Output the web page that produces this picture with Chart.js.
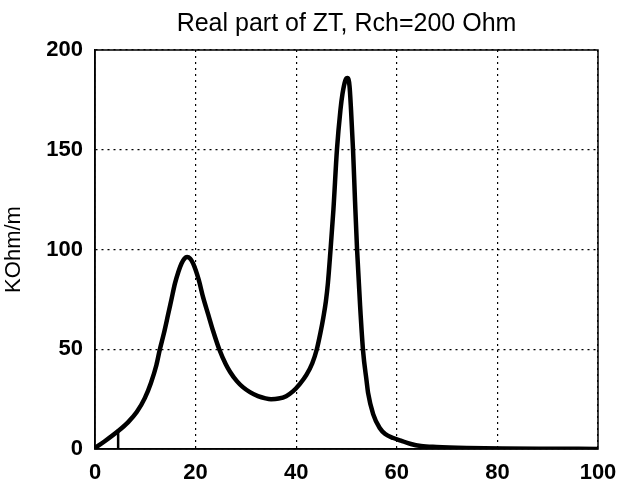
<!DOCTYPE html>
<html>
<head>
<meta charset="utf-8">
<script src="https://cdn.jsdelivr.net/npm/chart.js@4"></script>
<style>
  html, body { margin: 0; padding: 0; background: #fff; }
  #wrap { width: 622px; height: 488px; }
</style>
</head>
<body>
<div id="wrap"><canvas id="ztChart" width="622" height="488"></canvas></div>
<script>
// --- DATA ---
const freqPts = [0, 2, 4.6, 6.6, 8.3, 9.9, 11.1, 12.2, 12.9, 13.7, 14.5, 15.2, 15.9, 16.6, 17.2, 17.8, 18.3, 18.9,
    19.5, 20.6, 21.5, 22.5, 23.5, 24.7, 26.0, 26.9, 28.2, 29.4, 30.8, 32.4, 33.9, 35.0, 36.5, 38.0, 39.4, 40.7,
    42.0, 43.2, 44.1, 44.8, 45.4, 45.9, 46.3, 46.8, 47.4, 48.1, 48.8, 49.2, 49.8, 50.2, 50.6, 50.9, 51.3,
    51.7, 52.1, 52.7, 53.3, 54.0, 54.3, 55.3, 56.6, 57.7, 59.3, 60.8, 62.8, 64.8, 67.9, 73.9, 81, 91, 100];
const realZT = [0.5, 4, 9, 13.5, 18.5, 25.5, 33, 42, 50, 58, 67, 75, 83, 89, 93, 95.5, 96.2, 95.5,
    93, 85, 76, 67.5, 59, 50, 42.5, 38.5, 34, 31, 28.5, 26.5, 25.4, 25, 25.3, 26.5, 29, 32.5,
    37, 43, 50, 58, 66, 74, 83, 99, 120, 150, 170, 178, 185, 186, 182, 170, 150,
    124, 100, 72, 49, 34, 28, 17.5, 10.5, 7.5, 5.5, 4.2, 2.5, 1.5, 1, 0.5, 0.2, 0.1, 0.05];
// little hand mark near the origin
const markX = [4.6, 4.6];
const markY = [0, 10];

const xTicks = [0, 20, 40, 60, 80, 100];
const yTicks = [0, 50, 100, 150, 200];

// --- plot frame (MATLAB style box) ---
const boxPlugin = {
    id: 'box',
    afterDraw(chart) {
        const a = chart.chartArea;
        const c = chart.ctx;
        c.save();
        c.strokeStyle = '#000';
        c.lineWidth = 1.5;
        c.strokeRect(a.left, a.top, a.right - a.left, a.bottom - a.top);
        c.restore();
    }
};

const bgPlugin = {
    id: 'bg',
    beforeDraw(chart) {
        const c = chart.ctx;
        c.save();
        c.fillStyle = '#fff';
        c.fillRect(0, 0, chart.width, chart.height);
        c.restore();
    }
};

const fontFam = 'Liberation Sans, Arial, sans-serif';
const tickFont = { family: fontFam, size: 22, weight: 'bold' };
const gridStyle = { color: '#000', lineWidth: 1.2, drawTicks: false };
const borderStyle = { display: true, color: '#000', width: 1.5, dash: [2, 4] };

const ctx = document.getElementById('ztChart').getContext('2d');
const ztChart = new Chart(ctx, {
    type: 'scatter',
    data: {
        datasets: [{
            label: 'Re ZT',
            data: freqPts.map((f, i) => ({ x: f, y: realZT[i] })),
            showLine: true,
            borderColor: '#000',
            borderWidth: 4.5,
            pointRadius: 0,
            cubicInterpolationMode: 'monotone',
            fill: false
        }, {
            label: 'mark',
            data: markX.map((f, i) => ({ x: f, y: markY[i] })),
            showLine: true,
            borderColor: '#000',
            borderWidth: 2.5,
            pointRadius: 0
        }]
    },
    options: {
        responsive: false,
        animation: false,
        layout: { padding: { left: 0, right: 24, top: 0, bottom: 0 } },
        plugins: {
            legend: { display: false },
            tooltip: { enabled: false },
            title: {
                display: true,
                fullSize: false, // centre over the plot box, like MATLAB
                text: 'Real part of ZT, Rch=200 Ohm',
                color: '#000',
                font: { family: fontFam, size: 25, weight: 'normal', lineHeight: 1.2 },
                padding: { top: 9, bottom: 11 }
            }
        },
        scales: {
            x: {
                type: 'linear',
                min: 0, max: 100,
                afterBuildTicks: s => { s.ticks = xTicks.map(v => ({ value: v })); },
                afterFit: s => { s.height = 39; s.paddingRight = 0; s.paddingLeft = 0; },
                ticks: { color: '#000', font: tickFont, padding: 11, maxRotation: 0 },
                grid: { ...gridStyle },
                border: { ...borderStyle }
            },
            y: {
                min: 0, max: 200,
                afterBuildTicks: s => { s.ticks = yTicks.map(v => ({ value: v })); },
                afterFit: s => { s.width = 95; s.paddingTop = 0; s.paddingBottom = 0; },
                ticks: { color: '#000', font: tickFont, padding: 12 },
                grid: { ...gridStyle },
                border: { ...borderStyle },
                title: {
                    display: true,
                    text: 'KOhm/m',
                    color: '#000',
                    font: { family: fontFam, size: 22, lineHeight: 1.2 },
                    padding: { top: 1, bottom: 0 }
                }
            }
        }
    },
    plugins: [bgPlugin, boxPlugin]
});
</script>
</body>
</html>
